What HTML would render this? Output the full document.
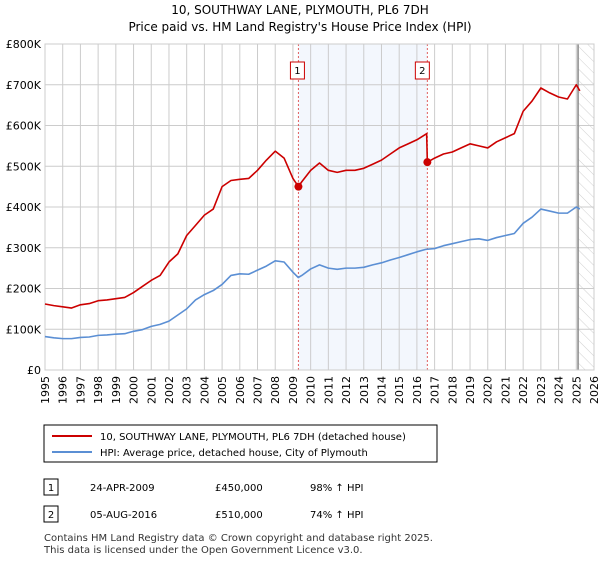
<!DOCTYPE html>
<html><head><meta charset="utf-8"><style>
body{margin:0;width:600px;height:560px;background:#fff;font-family:"Liberation Sans","DejaVu Sans",sans-serif;color:#000;overflow:hidden}
svg text{font-family:"DejaVu Sans","Liberation Sans",sans-serif}
</style></head><body>
<svg id="chart" width="600" height="560">
<text x="300" y="14" text-anchor="middle" font-size="12">10, SOUTHWAY LANE, PLYMOUTH, PL6 7DH</text>
<text x="300" y="31" text-anchor="middle" font-size="12">Price paid vs. HM Land Registry's House Price Index (HPI)</text>
<defs><pattern id="hatch" width="8" height="8" patternUnits="userSpaceOnUse" patternTransform="rotate(-45)"><line x1="0" y1="0" x2="0" y2="8" stroke="#d0d0d0" stroke-width="1"/></pattern></defs>
<g id="plot"></g>
<rect x="44" y="425" width="393" height="37" fill="#fff" stroke="#000" stroke-width="1"/>
<line x1="52" y1="436" x2="92" y2="436" stroke="#cc0000" stroke-width="2"/>
<text x="100" y="440" font-size="10">10, SOUTHWAY LANE, PLYMOUTH, PL6 7DH (detached house)</text>
<line x1="52" y1="452" x2="92" y2="452" stroke="#5b8fd4" stroke-width="2"/>
<text x="100" y="456" font-size="10">HPI: Average price, detached house, City of Plymouth</text>
<rect x="44" y="479" width="14" height="16" fill="#fff" stroke="#000"/>
<text x="51" y="491" font-size="10" text-anchor="middle">1</text>
<text x="90" y="491" font-size="10">24-APR-2009</text>
<text x="215" y="491" font-size="10">£450,000</text>
<text x="310" y="491" font-size="10">98% ↑ HPI</text>
<rect x="44" y="506" width="14" height="16" fill="#fff" stroke="#000"/>
<text x="51" y="518" font-size="10" text-anchor="middle">2</text>
<text x="90" y="518" font-size="10">05-AUG-2016</text>
<text x="215" y="518" font-size="10">£510,000</text>
<text x="310" y="518" font-size="10">74% ↑ HPI</text>
<text x="44" y="541" font-size="10" fill="#333">Contains HM Land Registry data © Crown copyright and database right 2025.</text>
<text x="44" y="553" font-size="10" fill="#333">This data is licensed under the Open Government Licence v3.0.</text>
</svg>
<script>
const hpiYears=[1995,1995.5,1996,1996.5,1997,1997.5,1998,1998.5,1999,1999.5,2000,2000.5,2001,2001.5,2002,2002.5,2003,2003.5,2004,2004.5,2005,2005.5,2006,2006.5,2007,2007.5,2008,2008.5,2009,2009.3,2009.5,2010,2010.5,2011,2011.5,2012,2012.5,2013,2013.5,2014,2014.5,2015,2015.5,2016,2016.5,2017,2017.5,2018,2018.5,2019,2019.5,2020,2020.5,2021,2021.5,2022,2022.5,2023,2023.5,2024,2024.5,2025,2025.2];
const hpiValues=[82,79,77,77,80,81,85,86,88,89,95,99,107,112,120,135,150,172,185,195,210,232,236,235,245,255,268,265,240,227,232,248,258,250,247,250,250,252,258,263,270,276,283,290,296,298,305,310,315,320,322,318,325,330,335,360,375,395,390,385,385,400,395];
const priceYears=[1995,1995.5,1996,1996.5,1997,1997.5,1998,1998.5,1999,1999.5,2000,2000.5,2001,2001.5,2002,2002.5,2003,2003.5,2004,2004.5,2005,2005.5,2006,2006.5,2007,2007.5,2008,2008.5,2009,2009.31,2009.5,2010,2010.5,2011,2011.5,2012,2012.5,2013,2013.5,2014,2014.5,2015,2015.5,2016,2016.55,2016.59,2017,2017.5,2018,2018.5,2019,2019.5,2020,2020.5,2021,2021.5,2022,2022.5,2023,2023.5,2024,2024.5,2025,2025.2];
const priceValues=[162,158,155,152,160,163,170,172,175,178,190,205,220,232,265,285,330,355,380,395,450,465,468,470,490,515,537,520,470,450,462,490,508,490,485,490,490,495,505,515,530,545,555,565,580,510,520,530,535,545,555,550,545,560,570,580,635,660,692,680,670,665,700,685];
const saleYears=[2009.31,2016.59];
const salePrices=[450,510];
const saleLabels=["1","2"];
const yTicks=[0,100,200,300,400,500,600,700,800];
const yTickLabels=["£0","£100K","£200K","£300K","£400K","£500K","£600K","£700K","£800K"];
const xTicks=[1995,1996,1997,1998,1999,2000,2001,2002,2003,2004,2005,2006,2007,2008,2009,2010,2011,2012,2013,2014,2015,2016,2017,2018,2019,2020,2021,2022,2023,2024,2025,2026];
const dataEnd=2025.1;

const X0=45,X1=594,Y0=370,Y1=44;
const xs=y=>X0+(y-1995)/(2026-1995)*(X1-X0);
const ys=v=>Y0-v/800*(Y0-Y1);
const NS="http://www.w3.org/2000/svg";
const g=document.getElementById('plot');
function mk(t,a,p){const e=document.createElementNS(NS,t);for(const k in a)e.setAttribute(k,a[k]);(p||g).appendChild(e);return e;}

const shade=mk('rect',{x:xs(saleYears[0]),y:Y1,width:xs(saleYears[1])-xs(saleYears[0]),height:Y0-Y1,fill:'#eef3fc',opacity:0.7});


const hatch=mk('rect',{x:xs(dataEnd),y:Y1,width:X1-xs(dataEnd),height:Y0-Y1,fill:'url(#hatch)'});


yTicks.forEach((v,i)=>{
 const l=mk('line',{x1:X0,x2:X1,y1:ys(v),y2:ys(v),stroke:'#ccc','stroke-width':1});
 
 
 const t=mk('text',{x:X0-4,y:ys(v)+4,'text-anchor':'end','font-size':11});
 
 
 t.textContent=yTickLabels[i];
});
xTicks.forEach(yr=>{
 const l=mk('line',{x1:xs(yr),x2:xs(yr),y1:Y1,y2:Y0,stroke:'#ccc','stroke-width':1});
 
 
 const t=mk('text',{x:0,y:0,'text-anchor':'end','font-size':11,transform:`translate(${xs(yr)+4},${Y0+6}) rotate(-90)`});
 
 
 t.textContent=yr;
});
const endLine=mk('line',{x1:xs(dataEnd),x2:xs(dataEnd),y1:Y1,y2:Y0,stroke:'#888','stroke-width':1.5});


saleYears.forEach((yr,i)=>{
 const l=mk('line',{x1:xs(yr),x2:xs(yr),y1:Y1,y2:Y0,stroke:'#e06060','stroke-width':1,'stroke-dasharray':'2,2'});
 
 
 const b=mk('rect',{x:xs(yr)-6-(i==0?2:6),y:62,width:14,height:17,fill:'#fff',stroke:'#cc0000'});
 
 
 const t=mk('text',{x:xs(yr)+1-(i==0?2:6),y:74,'text-anchor':'middle','font-size':10});
 
 
 t.textContent=saleLabels[i];
});
const pl=mk('rect',{x:X0,y:Y1,width:X1-X0,height:Y0-Y1,fill:'none',stroke:'#ccc'});


function line(xa,va,c,name){
 const p=mk('polyline',{points:xa.map((y,i)=>xs(y)+','+ys(va[i])).join(' '),fill:'none',stroke:c,'stroke-width':1.6,'stroke-linejoin':'round'});
 
 
}
line(hpiYears,hpiValues,'#5b8fd4','hpi-line');
line(priceYears,priceValues,'#cc0000','price-line');
saleYears.forEach((yr,i)=>{
 const c=mk('circle',{cx:xs(yr),cy:ys(salePrices[i]),r:4,fill:'#cc0000'});
 
 
});
</script>
</body></html>
